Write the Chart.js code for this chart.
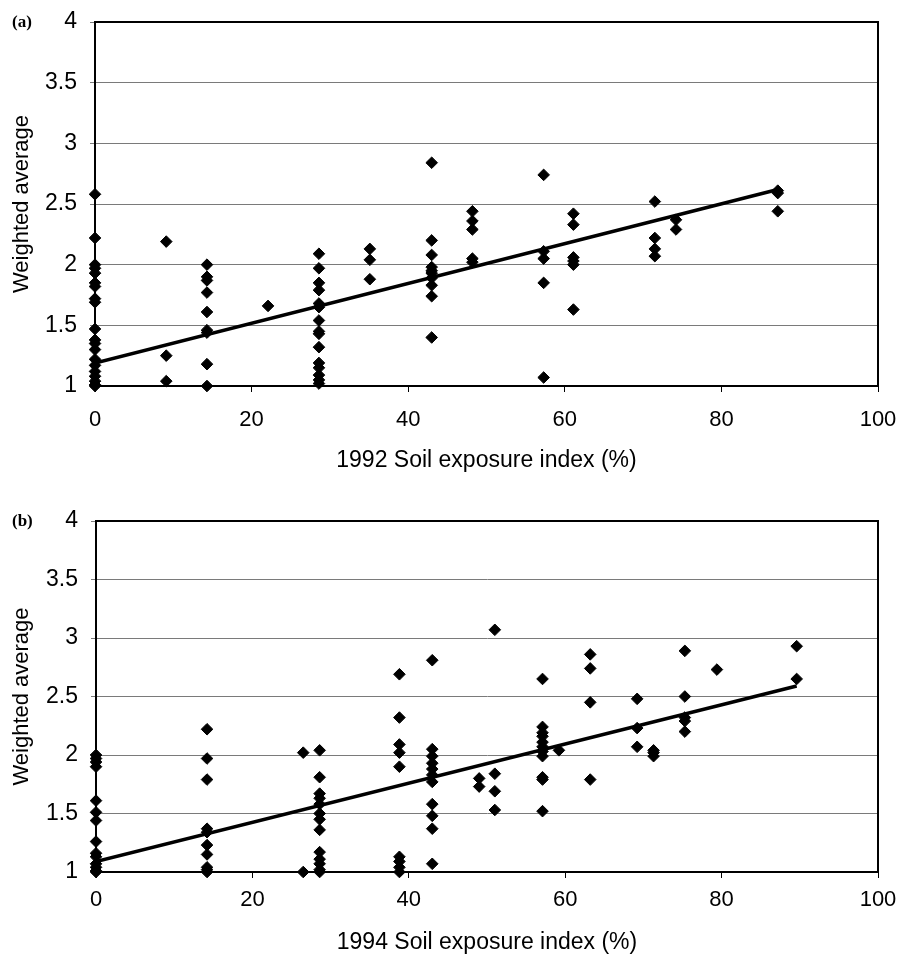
<!DOCTYPE html>
<html lang="en">
  <head>
    <meta charset="UTF-8" />
    <meta name="viewport" content="width=device-width, initial-scale=1.0" />
    <script src="https://cdn.jsdelivr.net/npm/chart.js"></script>
    <title>Soil exposure index</title>
    <style>
      body { margin: 0; background: #fff; }
      .painel { position: relative; width: 903px; height: 478px; }
      .painel canvas { display: block; }
      .letra { position: absolute; left: 12px; font: bold 17px "Liberation Serif", "Times New Roman", serif; color: #000; }
    </style>
  </head>

  <body>
    <div class="painel">
      <span class="letra" style="top: 12px">(a)</span>
      <canvas id="grafico_a" width="903" height="478"></canvas>
    </div>
    <div class="painel">
      <span class="letra" style="top: 33px">(b)</span>
      <canvas id="grafico_b" width="903" height="478"></canvas>
    </div>
  </body>
</html>
<script>
  // (a) 1992 - cada x tem uma coluna de valores
  const xA = [0, 9.1, 14.3, 22.1, 28.6, 35.1, 43.0, 48.2, 57.3, 61.1, 71.5, 74.2, 87.2];
  const yA = [
    [2.58, 2.22, 2.0, 1.97, 1.93, 1.85, 1.82, 1.72, 1.69, 1.47, 1.38, 1.35, 1.30, 1.22, 1.17, 1.12, 1.08, 1.04, 1.01, 1.0],
    [2.19, 1.25, 1.04],
    [2.0, 1.90, 1.87, 1.77, 1.61, 1.46, 1.44, 1.18, 1.0],
    [1.66],
    [2.09, 1.97, 1.85, 1.79, 1.68, 1.65, 1.54, 1.45, 1.43, 1.32, 1.19, 1.15, 1.09, 1.05, 1.02],
    [2.13, 2.04, 1.88],
    [2.84, 2.20, 2.08, 1.98, 1.95, 1.93, 1.89, 1.83, 1.74, 1.40],
    [2.44, 2.36, 2.29, 2.05, 2.02],
    [2.74, 2.11, 2.05, 1.85, 1.07],
    [2.42, 2.33, 2.06, 2.03, 2.00, 1.63],
    [2.52, 2.22, 2.13, 2.07],
    [2.37, 2.29],
    [2.61, 2.59, 2.44],
  ];
  const tendenciaXA = [0, 87.2];
  const tendenciaYA = [1.19, 2.62];

  // (b) 1994
  const xB = [0, 14.2, 26.5, 28.6, 38.8, 43.0, 49.0, 51.0, 57.1, 59.2, 63.2, 69.2, 71.3, 75.3, 79.4, 89.6];
  const yB = [
    [2.0, 1.97, 1.94, 1.90, 1.61, 1.51, 1.44, 1.26, 1.16, 1.13, 1.07, 1.04, 1.01, 1.0],
    [2.22, 1.97, 1.79, 1.37, 1.34, 1.23, 1.15, 1.04, 1.02, 1.0],
    [2.02, 1.0],
    [2.04, 1.81, 1.67, 1.63, 1.58, 1.50, 1.45, 1.36, 1.17, 1.11, 1.07, 1.02, 1.0],
    [2.69, 2.32, 2.09, 2.02, 1.90, 1.13, 1.09, 1.04, 1.0],
    [2.81, 2.05, 1.99, 1.93, 1.88, 1.83, 1.77, 1.58, 1.48, 1.37, 1.07],
    [1.80, 1.73],
    [3.07, 1.84, 1.69, 1.53],
    [2.65, 2.24, 2.19, 2.16, 2.11, 2.07, 2.03, 1.99, 1.81, 1.79, 1.52],
    [2.04],
    [2.86, 2.74, 2.45, 1.79],
    [2.48, 2.23, 2.07],
    [2.04, 2.02, 1.99],
    [2.89, 2.50, 2.32, 2.29, 2.20],
    [2.73],
    [2.93, 2.65],
  ];
  const tendenciaXB = [0, 89.6];
  const tendenciaYB = [1.09, 2.59];

  const ticksX = [0, 20, 40, 60, 80, 100];
  const ticksY = [1, 1.5, 2, 2.5, 3, 3.5, 4];

  const fonte = '"Liberation Sans", Arial, sans-serif';

  // moldura preta em volta da area do grafico
  const moldura = {
    id: "moldura",
    beforeDatasetsDraw(chart) {
      const a = chart.chartArea;
      const ctx = chart.ctx;
      ctx.save();
      ctx.strokeStyle = "#000";
      ctx.lineWidth = 2;
      ctx.strokeRect(a.left, a.top, a.right - a.left, a.bottom - a.top);
      ctx.restore();
    },
  };

  function montarPontos(xs, ys) {
    var pontos = [];
    for (var i = 0; i < xs.length; i++) {
      ys[i].forEach((v) => pontos.push({ x: xs[i], y: v }));
    }
    return pontos;
  }

  function plotarGrafico(idCanvas, xs, ys, tx, ty, tituloX, m) {
    const data = {
      datasets: [
        {
          type: "line",
          data: tx.map((v, i) => ({ x: v, y: ty[i] })),
          borderColor: "#000",
          borderWidth: 3.5,
          pointRadius: 0,
          fill: false,
          order: 2,
        },
        {
          type: "scatter",
          data: montarPontos(xs, ys),
          pointStyle: "rectRot",
          pointRadius: 5.8,
          pointBorderWidth: 1,
          backgroundColor: "#000",
          borderColor: "#000",
          clip: false,
          order: 1,
        },
      ],
    };

    const config = {
      type: "scatter",
      data: data,
      plugins: [moldura],
      options: {
        responsive: false,
        animation: false,
        layout: { padding: { top: m.topo, right: 903 - m.direita, left: 0, bottom: 0 } },
        plugins: { legend: { display: false }, tooltip: { enabled: false } },
        scales: {
          x: {
            type: "linear",
            min: 0,
            max: 100,
            afterFit: (s) => { s.height = m.alturaX; },
            afterBuildTicks: (s) => { s.ticks = ticksX.map((v) => ({ value: v })); },
            grid: { drawOnChartArea: false, drawTicks: true, tickLength: 6, color: "#000" },
            border: { display: true, color: "#000", width: 2 },
            // padding 0 senao o chart.js empurra a borda direita; a altura da linha desce o texto
            ticks: { color: "#000", font: { family: fonte, size: 22, lineHeight: m.linhaX }, padding: 0, maxRotation: 0 },
            title: {
              display: true,
              text: tituloX,
              color: "#000",
              font: { family: fonte, size: 23 },
              padding: { top: 0, bottom: m.padTituloX },
            },
          },
          y: {
            type: "linear",
            min: 1,
            max: 4,
            afterFit: (s) => { s.width = m.esquerda; },
            afterBuildTicks: (s) => { s.ticks = ticksY.map((v) => ({ value: v })); },
            grid: { color: "#7a7a7a", lineWidth: 1, tickLength: 5 },
            border: { display: true, color: "#000", width: 2 },
            // lineHeight pequeno para o "4" nao empurrar o topo para baixo
            ticks: {
              color: "#000",
              font: { family: fonte, size: 23, lineHeight: "10px" },
              padding: 13,
              callback: (v) => String(v),
            },
            title: {
              display: true,
              text: "Weighted average",
              color: "#000",
              font: { family: fonte, size: 22 },
              padding: { top: 9, bottom: 0 },
            },
          },
        },
      },
    };

    return new Chart(document.getElementById(idCanvas), config);
  }

  plotarGrafico("grafico_a", xA, yA, tendenciaXA, tendenciaYA, "1992 Soil exposure index (%)", {
    topo: 22, esquerda: 95, direita: 878, alturaX: 92, linhaX: "56px", padTituloX: 4,
  });
  plotarGrafico("grafico_b", xB, yB, tendenciaXB, tendenciaYB, "1994 Soil exposure index (%)", {
    topo: 43, esquerda: 96, direita: 878, alturaX: 84, linhaX: "44px", padTituloX: 0,
  });
</script>
